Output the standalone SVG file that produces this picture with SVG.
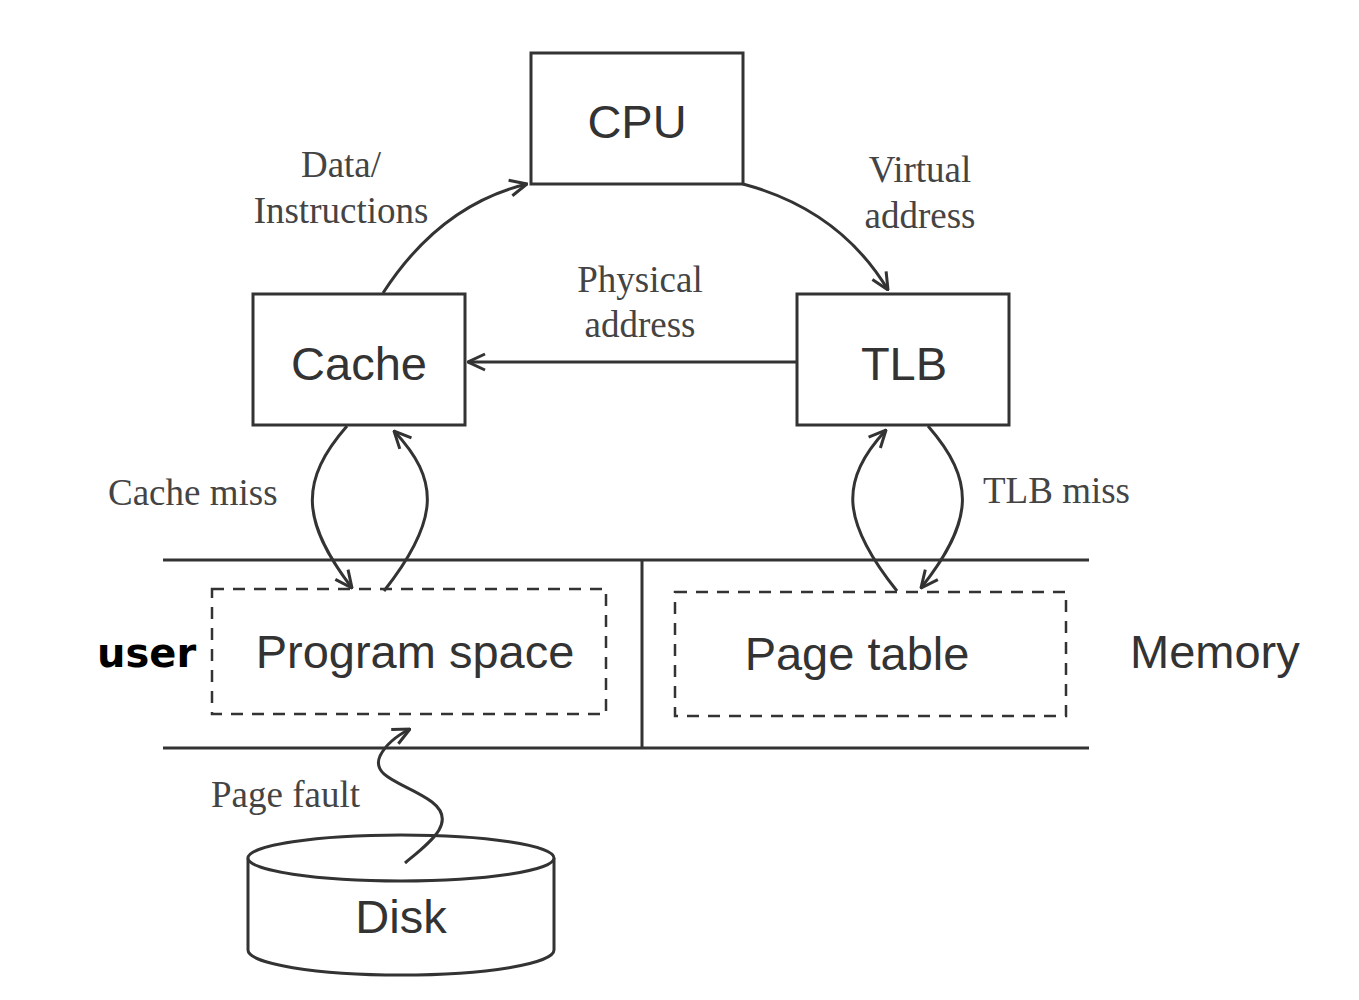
<svg xmlns="http://www.w3.org/2000/svg" width="1359" height="1000" viewBox="0 0 1359 1000">
<style>
.box{fill:#fff;stroke:#333;stroke-width:3}
.dbox{fill:none;stroke:#333;stroke-width:2.5;stroke-dasharray:12 9}
.ln{fill:none;stroke:#333;stroke-width:3}
.sans{font-family:"Liberation Sans",Arial,sans-serif;font-size:47px;fill:#333;text-anchor:middle}
.serif{font-family:"Liberation Serif","Times New Roman",serif;font-size:37px;fill:#444}
.mid{text-anchor:middle}
</style>
<defs>
<marker id="ah" viewBox="0 0 12 12" refX="11" refY="6" markerWidth="12" markerHeight="12" markerUnits="userSpaceOnUse" orient="auto">
<path d="M1,1 L11,6 L1,11" fill="none" stroke="#333" stroke-width="2"/>
</marker>
<marker id="ah2" viewBox="0 0 20 20" refX="19" refY="10" markerWidth="20" markerHeight="20" markerUnits="userSpaceOnUse" orient="auto">
<path d="M2,2 L19,10 L2,18" fill="none" stroke="#333" stroke-width="3"/>
</marker>
</defs>
<rect width="1359" height="1000" fill="#fff"/>

<g id="memory-lines">
<line class="ln" x1="163" y1="560" x2="1089" y2="560"/>
<line class="ln" x1="163" y1="748" x2="1089" y2="748"/>
<line class="ln" x1="642" y1="560" x2="642" y2="748"/>
</g>

<g id="cpu">
<rect class="box" x="531" y="53" width="212" height="131"/>
<text class="sans" x="637" y="138">CPU</text>
</g>
<g id="cache">
<rect class="box" x="253" y="294" width="212" height="131"/>
<text class="sans" x="359" y="380">Cache</text>
</g>
<g id="tlb">
<rect class="box" x="797" y="294" width="212" height="131"/>
<text class="sans" x="904" y="380">TLB</text>
</g>
<g id="program-space">
<rect class="dbox" x="212" y="589" width="394" height="125"/>
<text class="sans" x="415" y="668">Program space</text>
</g>
<g id="page-table">
<rect class="dbox" x="675" y="592" width="391" height="124"/>
<text class="sans" x="857" y="670">Page table</text>
</g>
<g id="memory-label">
<text class="sans" x="1130" y="668" style="text-anchor:start">Memory</text>
</g>
<g id="user-label">
<text x="97" y="667" font-family="'DejaVu Sans',sans-serif" font-weight="bold" font-size="40" fill="#000">user</text>
</g>
<g id="disk">
<path class="box" d="M248,858 L248,950 A153,25 0 0 0 554,950 L554,858"/>
<ellipse class="box" cx="401" cy="858" rx="153" ry="23"/>
<text class="sans" x="401" y="933">Disk</text>
</g>

<g id="connectors">
<path class="ln" d="M383,293 Q440,205 527,184" marker-end="url(#ah2)"/>
<path class="ln" d="M743,184 Q840,210 888,290" marker-end="url(#ah2)"/>
<line class="ln" x1="797" y1="362" x2="468" y2="362" marker-end="url(#ah2)"/>
<path class="ln" d="M347,426 C300,480 300,520 352,588" marker-end="url(#ah2)"/>
<path class="ln" d="M384,591 C440,520 440,480 394,431" marker-end="url(#ah2)"/>
<path class="ln" d="M897,591 C840,520 840,480 886,430" marker-end="url(#ah2)"/>
<path class="ln" d="M928,426 C975,480 975,520 921,588" marker-end="url(#ah2)"/>
<path class="ln" d="M405,863 C430,842 458,822 432,802 C408,784 370,778 380,756 C386,744 396,736 410,729" marker-end="url(#ah2)"/>
</g>

<g id="labels">
<text class="serif mid" x="341" y="177">Data/</text>
<text class="serif mid" x="341" y="223">Instructions</text>
<text class="serif mid" x="920" y="182">Virtual</text>
<text class="serif mid" x="920" y="228">address</text>
<text class="serif mid" x="640" y="292">Physical</text>
<text class="serif mid" x="640" y="337">address</text>
<text class="serif" x="108" y="505">Cache miss</text>
<text class="serif" x="983" y="503">TLB miss</text>
<text class="serif" x="211" y="807">Page fault</text>
</g>
</svg>
